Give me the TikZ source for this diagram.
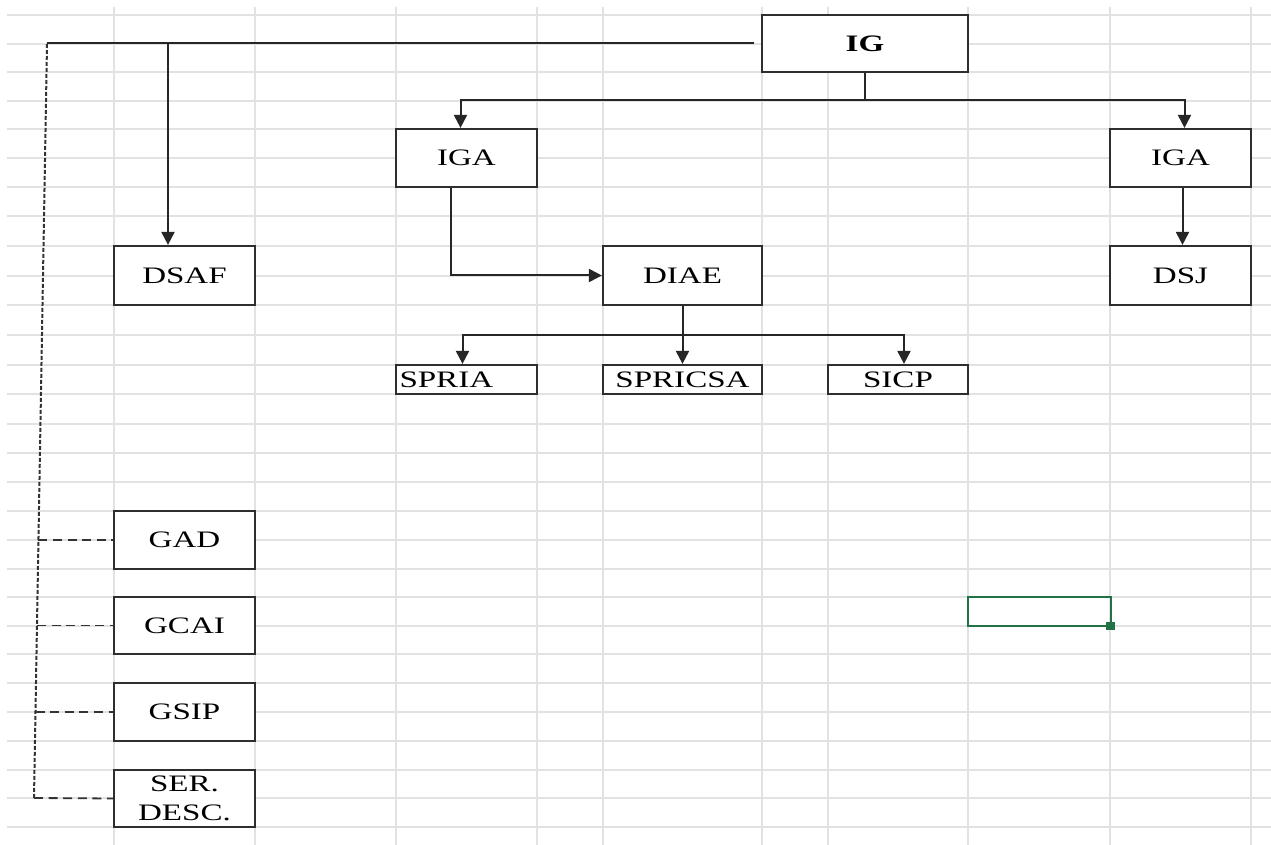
\documentclass[tikz,border=0pt]{standalone}
\usepackage{fontspec}
\setmainfont{Liberation Serif}[FakeStretch=1.4]
\usetikzlibrary{arrows.meta,calc}
\definecolor{gridc}{HTML}{E2E2E2}
\definecolor{boxc}{HTML}{2E2E2E}
\definecolor{selg}{HTML}{217346}
\tikzset{
  box/.style={draw=boxc, line width=1.1pt, fill=white, inner sep=0pt, align=center,
    font=\fontsize{11.8}{14.5}\selectfont},
  arr/.style={draw=black!85, line width=1pt, -{Triangle[length=6.5pt,width=6.5pt]}},
  link/.style={draw=black!85, line width=1pt},
  dlinkv/.style={draw=black!80, line width=1pt, dash pattern=on 2pt off 1pt},
  dlinkh/.style={draw=black!80, line width=0.9pt, dash pattern=on 4.5pt off 2.8pt},
  gridline/.style={draw=gridc, line width=0.9pt}
}
\begin{document}
\begin{tikzpicture}[x=0.5pt,y=-0.5pt]
\useasboundingbox (0,0) rectangle (1271,845);
\fill[white] (0,0) rectangle (1271,845);
% spreadsheet grid
\foreach \yy in {15,44,72,101,129,158,187,216,246,276,305,335,365,394,424,453,482,511,540,569,597,626,654,683,712,741,770,798,827}
  \draw[gridline] (7,\yy) -- (1271,\yy);
\foreach \xx in {114,255,396,537,603,762,828,968,1110,1251}
  \draw[gridline] (\xx,7) -- (\xx,845);

% boxes
\node[box, minimum width=103pt, minimum height=28.5pt, font=\fontsize{11.8}{14.5}\selectfont\bfseries] (ig) at (865,43.5) {IG};
\node[box, minimum width=70.5pt, minimum height=29pt] (iga1) at (466.5,158) {IGA};
\node[box, minimum width=70.5pt, minimum height=29pt] (iga2) at (1180.5,158) {IGA};
\node[box, minimum width=70.5pt, minimum height=29.5pt] (dsaf) at (184.5,275.5) {DSAF};
\node[box, minimum width=79.5pt, minimum height=29.5pt] (diae) at (682.5,275.5) {DIAE};
\node[box, minimum width=70.5pt, minimum height=29.5pt] (dsj) at (1180.5,275.5) {DSJ};
\node[box, minimum width=70.5pt, minimum height=14.5pt, text width=67pt, align=left] (spria) at (466.5,379.5) {SPRIA};
\node[box, minimum width=79.5pt, minimum height=14.5pt] (spricsa) at (682.5,379.5) {SPRICSA};
\node[box, minimum width=70pt, minimum height=14.5pt] (sicp) at (898,379.5) {SICP};
\node[box, minimum width=70.5pt, minimum height=29pt] (gad) at (184.5,540) {GAD};
\node[box, minimum width=70.5pt, minimum height=28.5pt] (gcai) at (184.5,625.5) {GCAI};
\node[box, minimum width=70.5pt, minimum height=29pt] (gsip) at (184.5,712) {GSIP};
\node[box, minimum width=70.5pt, minimum height=28.5pt] (ser) at (184.5,798.5) {SER.\\DESC.};

% junction coordinates
\coordinate (cTL) at (47,44);
\coordinate (cBL) at (34,798);
\coordinate (cB) at (168,44);
\coordinate (jIG) at (865,100);
\coordinate (jD) at (682.5,335);
\coordinate (pg) at ($(cTL)!(gad.west)!(cBL)$);
\coordinate (pc) at ($(cTL)!(gcai.west)!(cBL)$);
\coordinate (ps) at ($(cTL)!(gsip.west)!(cBL)$);

% IG to left branch
\draw[link] ([xshift=-3.5pt]ig.west) -- (ig.west -| cTL);
\draw[arr] (cB) -- (cB |- dsaf.north);
\draw[dlinkv] (cTL) -- (cBL);
\draw[dlinkh] (pg |- gad.west) -- (gad.west);
\draw[dlinkh] (pc |- gcai.west) -- (gcai.west);
\draw[dlinkh] (ps |- gsip.west) -- (gsip.west);
\draw[dlinkh] (cBL) -- (ser.west);

% IG to IGAs
\draw[link] (ig.south) -- (jIG);
\draw[arr] (jIG) -| ([xshift=-3pt]iga1.north);
\draw[arr] (jIG) -| ([xshift=2pt]iga2.north);

% IGA (left) to DIAE
\draw[arr] ([xshift=-8pt]iga1.south) |- (diae.west);

% DIAE to children
\draw[arr] (diae.south) -- (spricsa.north);
\draw[link] (diae.south) -- (jD);
\draw[arr] (jD) -| ([xshift=-2pt]spria.north);
\draw[arr] (jD) -| ([xshift=3pt]sicp.north);

% IGA (right) to DSJ
\draw[arr] ([xshift=1pt]iga2.south) -- ([xshift=1pt]dsj.north);

% selected cell
\draw[selg, line width=1pt] (968,597) rectangle (1111,626);
\fill[selg] (1106,622) rectangle (1115,630);
\end{tikzpicture}
\end{document}
